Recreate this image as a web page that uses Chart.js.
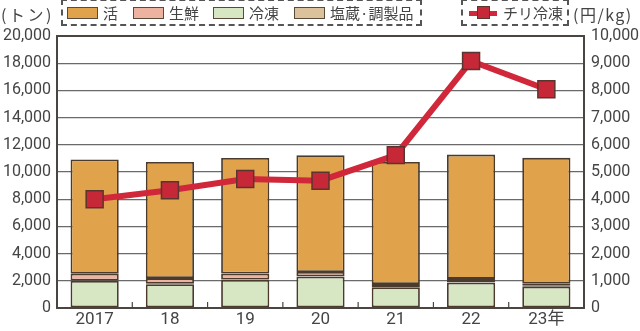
<!DOCTYPE html>
<html><head><meta charset="utf-8">
<script src="https://cdn.jsdelivr.net/npm/chart.js@4.4.1/dist/chart.umd.min.js"></script>
<style>
html,body{margin:0;padding:0;background:#fff;}
#wrap{position:relative;width:640px;height:331px;overflow:hidden;font-family:"Noto Sans CJK JP","Noto Sans",sans-serif;color:#444;}
#wrap canvas{position:absolute;left:0;top:0;}
.lbl{position:absolute;font-size:16px;line-height:20px;white-space:nowrap;}
.box{position:absolute;border:2px dashed #555;box-sizing:border-box;}
.item{position:absolute;top:3px;font-size:15px;line-height:18px;white-space:nowrap;}
.sw{display:inline-block;width:31px;height:12px;border:1.5px solid #5a4a3a;box-sizing:border-box;vertical-align:0px;margin-right:5px;}
</style></head>
<body>
<div id="wrap">
<canvas id="c" width="640" height="331"></canvas>
<div class="lbl" style="left:1px;top:4px;letter-spacing:2.5px;">(トン)</div>
<div class="lbl" style="left:573px;top:4px;letter-spacing:1.5px;">(円/kg)</div>
<div class="box" style="left:61px;top:-1px;width:361px;height:27px;">
  <div class="item" style="left:4px;"><span class="sw" style="background:#E0A24B"></span>活</div>
  <div class="item" style="left:70px;"><span class="sw" style="background:#EDB3A0"></span>生鮮</div>
  <div class="item" style="left:150px;"><span class="sw" style="background:#D8E7C3"></span>冷凍</div>
  <div class="item" style="left:231px;"><span class="sw" style="background:#DCC29C"></span>塩蔵·調製品</div>
</div>
<div class="box" style="left:461px;top:-1px;width:108px;height:27px;">
  <div class="item" style="left:6px;"><span style="display:inline-block;position:relative;width:28px;height:12px;vertical-align:0px;margin-right:6px;"><span style="position:absolute;left:0;top:4px;width:28px;height:5px;background:#D0283A"></span><span style="position:absolute;left:8px;top:-1px;width:13px;height:13px;background:#C62838;border:1.5px solid #5a3530;box-sizing:border-box;"></span></span>チリ冷凍</div>
</div>
</div>
<script>
const categories = ['2017','18','19','20','21','22','23年'];
const liveValues   = [8400, 8530, 8500, 8580, 8960, 9140, 9260];
const freshValues  = [500, 420, 440, 320, 220, 250, 150];
const frozenValues = [1985, 1750, 2060, 2300, 1520, 1860, 1570];
const saltedValues = [30, 30, 30, 30, 30, 30, 60];
const chileFrozenPrice = [4000, 4330, 4740, 4680, 5620, 9080, 8040];
const leftTicks = [0,2000,4000,6000,8000,10000,12000,14000,16000,18000,20000];
const rightTicks = [0,1000,2000,3000,4000,5000,6000,7000,8000,9000,10000];

const tickFont = {family:'Roboto', size:16};
const xFont = {family:'Roboto, "Noto Sans CJK JP"', size:17};

const frame = {
  id:'frame',
  afterDraw(chart){
    const {ctx, chartArea:a, scales} = chart;
    const x = scales.x;
    ctx.save();
    ctx.strokeStyle = '#4a4540';
    ctx.lineWidth = 2;
    ctx.strokeRect(a.left, a.top, a.right - a.left, a.bottom - a.top);
    ctx.lineWidth = 1.2;
    for (let i = 0; i < categories.length - 1; i++) {
      const px = (x.getPixelForValue(i) + x.getPixelForValue(i+1)) / 2;
      ctx.beginPath();
      ctx.moveTo(px, a.bottom);
      ctx.lineTo(px, a.bottom - 6);
      ctx.stroke();
    }
    ctx.restore();
  }
};

const barCommon = {type:'bar', yAxisID:'y', order:2, borderColor:'#4a3b2c', borderWidth:1.8, borderSkipped:false, categoryPercentage:1, barPercentage:0.64, stack:'s'};
new Chart(document.getElementById('c'), {
  data:{
    labels: categories,
    datasets:[
      Object.assign({label:'冷凍', data:frozenValues, backgroundColor:'#D8E7C3'}, barCommon),
      Object.assign({label:'塩蔵·調製品', data:saltedValues, backgroundColor:'#DCC29C'}, barCommon),
      Object.assign({label:'生鮮', data:freshValues, backgroundColor:'#EDB3A0'}, barCommon),
      Object.assign({label:'活', data:liveValues, backgroundColor:'#E0A24B'}, barCommon),
      {type:'line', label:'チリ冷凍', data:chileFrozenPrice, yAxisID:'y2', order:1,
       borderColor:'#D0283A', borderWidth:6, pointStyle:'rect', pointRadius:12, pointHoverRadius:12,
       pointBackgroundColor:'#C62838', pointBorderColor:'#5a3530', pointBorderWidth:1.5, tension:0}
    ]
  },
  options:{
    responsive:false, animation:false, events:[],
    layout:{padding:{top:36, left:0, right:0, bottom:0}},
    plugins:{legend:{display:false}, tooltip:{enabled:false}},
    scales:{
      x:{offset:true, grid:{display:false, drawTicks:false}, border:{display:false},
         ticks:{color:'#444', font:xFont, padding:2, maxRotation:0},
         afterFit(s){ s.height = 23; }},
      y:{position:'left', min:0, max:20000, afterBuildTicks(s){ s.ticks = leftTicks.map(v=>({value:v})); },
         border:{display:false},
         grid:{drawTicks:false, color:(c)=> (c.tick.value===0||c.tick.value===20000)?'rgba(0,0,0,0)':'#6a6a6a', lineWidth:1.2, borderDash:[4,4]},
         ticks:{color:'#444', font:tickFont, padding:6, callback:v=>v.toLocaleString('en-US')},
         afterFit(s){ s.width = 57; }},
      y2:{position:'right', min:0, max:10000, afterBuildTicks(s){ s.ticks = rightTicks.map(v=>({value:v})); },
         border:{display:false}, grid:{display:false, drawOnChartArea:false, drawTicks:false},
         ticks:{color:'#444', font:tickFont, padding:7, callback:v=>v.toLocaleString('en-US')},
         afterFit(s){ s.width = 56; }}
    }
  },
  plugins:[frame]
});
</script>
</body></html>
